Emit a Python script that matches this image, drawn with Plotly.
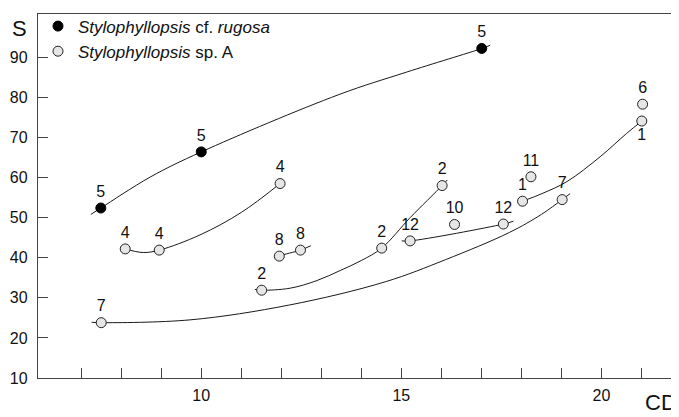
import plotly.graph_objects as go

# --- data ---
# Stylophyllopsis cf. rugosa (filled)
rugosa_cd = [7.49, 10.0, 17.01]
rugosa_s = [52.4, 66.4, 92.2]
rugosa_n = ["5", "5", "5"]

# Stylophyllopsis sp. A (open)
spA_cd = [8.10, 8.95, 11.97, 7.50, 19.02, 11.95, 12.48, 11.51, 14.51, 16.02,
          15.22, 16.33, 17.55, 18.03, 18.24, 21.01, 21.03]
spA_s = [42.2, 41.9, 58.5, 23.8, 54.5, 40.4, 41.9, 31.9, 42.4, 58.0,
         44.2, 48.3, 48.4, 54.1, 60.2, 74.1, 78.3]
spA_n = ["4", "4", "4", "7", "7", "8", "8", "2", "2", "2",
         "12", "10", "12", "1", "11", "1", "6"]
spA_pos = ["top center"] * 15 + ["bottom center", "top center"]

# growth curves
curve_rugosa_cd = [7.24, 7.49, 8.72, 10.0, 13.44, 15.13, 17.01, 17.22]
curve_rugosa_s = [50.8, 52.4, 60.1, 66.4, 80.7, 86.3, 92.2, 93.0]

curve4_cd = [8.10, 8.55, 8.95, 9.97, 11.0, 11.97]
curve4_s = [42.2, 41.3, 41.9, 45.7, 51.3, 58.5]

curve8_cd = [11.84, 11.95, 12.48, 12.74]
curve8_s = [39.7, 40.4, 41.9, 43.0]

curve2_cd = [11.34, 11.51, 12.22, 12.89, 13.47, 14.0, 14.51, 15.22, 16.02, 16.15]
curve2_s = [32.1, 31.9, 32.4, 34.3, 36.8, 39.3, 42.4, 50.0, 58.0, 59.4]

curve7_cd = [7.26, 7.50, 9.72, 12.2, 14.6, 16.1, 17.7, 18.5, 19.02, 19.22]
curve7_s = [23.9, 23.8, 24.5, 28.2, 34.0, 39.5, 46.3, 50.8, 54.5, 56.0]

curve12_cd = [15.01, 15.22, 17.55, 17.80]
curve12_s = [44.2, 44.2, 48.4, 49.1]

curve1_cd = [18.03, 18.54, 19.14, 19.97, 20.63, 21.01]
curve1_s = [54.1, 56.1, 59.0, 65.2, 71.0, 74.1]

x_ticks = list(range(7, 22))
x_ticktext = [str(v) if v % 5 == 0 else "" for v in x_ticks]
y_ticks = list(range(10, 100, 10))

FONT = "Arial, Liberation Sans, sans-serif"
LINE = "#1a1a1a"

fig = go.Figure()

curves = [
    (curve_rugosa_cd, curve_rugosa_s),
    (curve4_cd, curve4_s),
    (curve8_cd, curve8_s),
    (curve2_cd, curve2_s),
    (curve7_cd, curve7_s),
    (curve12_cd, curve12_s),
    (curve1_cd, curve1_s),
]
for cx, cy in curves:
    fig.add_trace(go.Scatter(
        x=cx, y=cy, mode="lines",
        line=dict(color=LINE, width=1, shape="spline", smoothing=1.0),
        showlegend=False, hoverinfo="skip",
    ))

fig.add_trace(go.Scatter(
    x=rugosa_cd, y=rugosa_s, mode="markers+text",
    text=rugosa_n, textposition="top center",
    textfont=dict(family=FONT, size=16, color="#111"),
    marker=dict(symbol="circle", size=10, color="#000",
                line=dict(color="#000", width=1)),
    name="<i>Stylophyllopsis</i> cf. <i>rugosa</i>",
))
fig.add_trace(go.Scatter(
    x=spA_cd, y=spA_s, mode="markers+text",
    text=spA_n, textposition=spA_pos,
    textfont=dict(family=FONT, size=16, color="#111"),
    marker=dict(symbol="circle", size=10, color="#e6e6e6",
                line=dict(color="#222", width=1)),
    name="<i>Stylophyllopsis</i> sp. A",
))

# the page body adds an 8px margin, so the figure is sized and offset for it
fig.update_layout(
    width=671, height=409, autosize=False,
    margin=dict(l=30, r=0, t=6, b=39),
    paper_bgcolor="white", plot_bgcolor="white",
    font=dict(family=FONT, size=15, color="#111"),
    showlegend=True,
    legend=dict(
        x=0.0, y=1.015, xanchor="left", yanchor="top",
        bgcolor="rgba(0,0,0,0)", borderwidth=0,
        font=dict(family=FONT, size=17, color="#111"),
        tracegroupgap=0, itemsizing="trace",
    ),
    xaxis=dict(
        range=[5.92, 21.94], showgrid=False, zeroline=False,
        showline=True, linecolor="#444", linewidth=1.3, mirror=True,
        ticks="inside", ticklen=10, tickwidth=1, tickcolor="#444",
        tickvals=x_ticks, ticktext=x_ticktext,
        tickfont=dict(family=FONT, size=16, color="#111"),
        ticklabelstandoff=3,
    ),
    yaxis=dict(
        range=[10, 100.8], showgrid=False, zeroline=False,
        showline=True, linecolor="#444", linewidth=1.3,
        ticks="inside", ticklen=10, tickwidth=1, tickcolor="#444",
        tickvals=y_ticks,
        tickfont=dict(family=FONT, size=16, color="#111"),
        ticklabelstandoff=6,
    ),
    annotations=[
        dict(text="S", xref="paper", yref="paper", x=-0.0296, y=0.959,
             xanchor="center", yanchor="middle", showarrow=False,
             font=dict(family=FONT, size=22, color="#111")),
        dict(text="CD", xref="paper", yref="paper", x=1.0, y=-0.068,
             xanchor="right", yanchor="middle", showarrow=False,
             font=dict(family=FONT, size=22, color="#111")),
    ],
)

fig.write_html("out.html")
